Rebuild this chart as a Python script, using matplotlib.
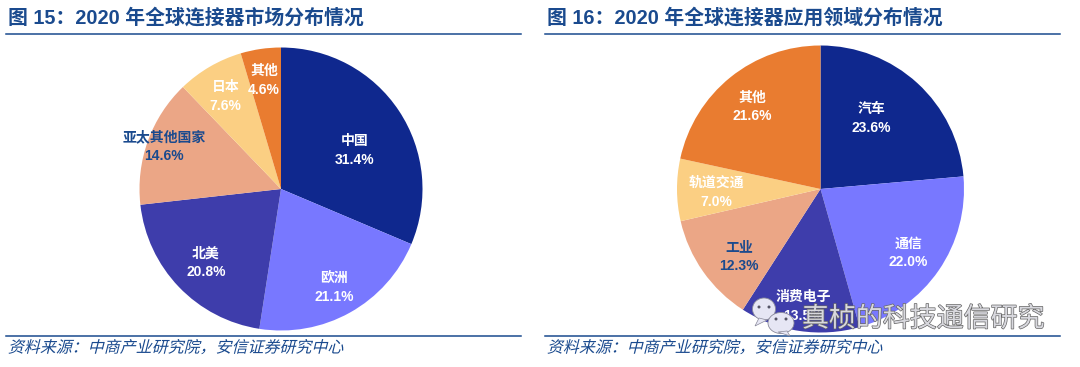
import matplotlib
matplotlib.use('Agg')
import matplotlib.pyplot as plt
from matplotlib.patches import Ellipse, Polygon
from matplotlib.patheffects import AbstractPathEffect, withStroke
from matplotlib.transforms import Affine2D

plt.rcParams['font.family'] = ['Noto Sans CJK SC', 'DejaVu Sans']

W, H = 1080, 367
BLUE = '#1a4a8e'

# 数据
market_labels = ['中国', '欧洲', '北美', '亚太其他国家', '日本', '其他']
market_values = [31.4, 21.1, 20.8, 14.6, 7.6, 4.6]
market_title = '图 15：2020 年全球连接器市场分布情况'

usage_labels = ['汽车', '通信', '消费电子', '工业', '轨道交通', '其他']
usage_values = [23.6, 22.0, 13.5, 12.3, 7.0, 21.6]
usage_title = '图 16：2020 年全球连接器应用领域分布情况'

source_text = '资料来源：中商产业研究院，安信证券研究中心'
pie_colors = ['#0f288e', '#7878ff', '#3e3dab', '#eba686', '#fbcf83', '#e97c30']


# CJK 字体没有斜体，这里把字形错切一下
class Slant(AbstractPathEffect):
    def __init__(self, y0, k=0.25):
        super().__init__()
        self.y0 = y0
        self.k = k

    def draw_path(self, renderer, gc, tpath, affine, rgbFace=None):
        shear = Affine2D().translate(0, -self.y0)
        shear = shear + Affine2D([[1, self.k, 0], [0, 1, 0], [0, 0, 1]])
        shear = shear + Affine2D().translate(0, self.y0)
        renderer.draw_path(gc, tpath, affine + shear, rgbFace)


fig = plt.figure(figsize=(W / 100, H / 100), dpi=100, facecolor='white')

# 整张图用像素坐标的底层坐标轴
bg = fig.add_axes([0, 0, 1, 1], zorder=3)
bg.set_xlim(0, W)
bg.set_ylim(H, 0)
bg.axis('off')


def draw_pie(cx, cy, r, values):
    ax = fig.add_axes([(cx - r) / W, 1 - (cy + r) / H, 2 * r / W, 2 * r / H], zorder=1)
    ax.pie(values, colors=pie_colors, startangle=90, counterclock=False,
           radius=1, center=(0, 0), normalize=True,
           wedgeprops={'linewidth': 0})
    ax.set_xlim(-1, 1)
    ax.set_ylim(-1, 1)


def draw_label(x, y, name, val, color='white'):
    bg.text(x, y - 9.5, name, color=color, fontsize=10, fontweight='bold', ha='center', va='center')
    bg.text(x, y + 9.5, '%.1f%%' % val, color=color, fontsize=10, fontweight='bold',
            ha='center', va='center', family=['Liberation Sans', 'DejaVu Sans'])


def draw_frame(x0, x1, title, src_x):
    bg.text(x0 + 2, 18, title, color=BLUE, fontsize=14.3, fontweight='bold', ha='left', va='center',
            family=['Liberation Sans', 'Noto Sans CJK SC', 'DejaVu Sans'])
    bg.plot([x0, x1], [33.5, 33.5], color=BLUE, lw=1.1)
    bg.plot([x0, x1], [335.5, 335.5], color=BLUE, lw=1.1)
    bg.text(src_x, 348, source_text, color=BLUE, fontsize=11.5, ha='left', va='center',
            path_effects=[Slant(H - 348)])


draw_pie(281, 189, 141.5, market_values)
draw_pie(820.5, 189, 143.5, usage_values)

draw_frame(6, 521, market_title, 9)
draw_frame(545, 1060, usage_title, 548)

market_pos = [(355, 151), (334, 287.5), (206, 263), (164, 147), (225.5, 97), (264, 80)]
market_cols = ['white', 'white', 'white', BLUE, 'white', 'white']
for (x, y), n, v, c in zip(market_pos, market_labels, market_values, market_cols):
    draw_label(x, y, n, v, c)

usage_pos = [(871, 118.5), (908, 253), (803, 306.5), (739, 257), (716, 192), (752, 107)]
usage_cols = ['white', 'white', 'white', BLUE, 'white', 'white']
for (x, y), n, v, c in zip(usage_pos, usage_labels, usage_values, usage_cols):
    draw_label(x, y, n, v, c)

# 水印
for cx, cy, rx, ry in [(764, 309, 11.5, 11), (781, 323, 13, 10.5)]:
    bg.add_patch(Ellipse((cx, cy), rx * 2, ry * 2, fc='#e6e6f4', ec='#8a8a9a', lw=0.6, zorder=5))
bg.add_patch(Polygon([(759, 318), (755, 326), (767, 320)], fc='#e6e6f4', ec='#8a8a9a', lw=0.5, zorder=5))
bg.add_patch(Polygon([(778, 332), (790, 336), (787, 331)], fc='#e6e6f4', ec='#8a8a9a', lw=0.5, zorder=5))
for x, y in [(759, 307), (769, 307), (776, 319), (786, 319)]:
    bg.add_patch(Ellipse((x, y), 3, 3, fc='#555566', ec='none', zorder=6))
bg.text(802, 319, '真桢的科技通信研究', color='#d8d8de', fontsize=19.4, ha='left', va='center', zorder=7,
        path_effects=[withStroke(linewidth=1.0, foreground='#666666')])

fig.savefig('out.png', dpi=100)
